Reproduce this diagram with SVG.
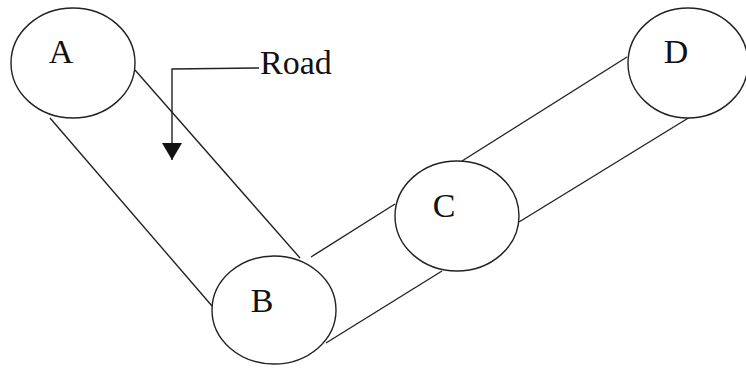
<svg xmlns="http://www.w3.org/2000/svg" width="746" height="368" viewBox="0 0 746 368">
<defs>
<style>
.node{fill:#fff;stroke:#222;stroke-width:1.4}
.lbl{font-family:"Liberation Serif","Times New Roman",serif;font-size:34px;fill:#111;text-anchor:middle}
.edge{stroke:#222;stroke-width:1.4;fill:none}
.road{font-family:"Liberation Serif","Times New Roman",serif;font-size:34px;fill:#111}
</style>
<marker id="ah" viewBox="0 -10 17 20" markerWidth="17" markerHeight="20" refX="17" refY="0" orient="auto" markerUnits="userSpaceOnUse">
<path d="M0,-10 L17,0 L0,10 z" fill="#111"/>
</marker>
</defs>
<rect width="746" height="368" fill="#fff"/>
<g id="connectors">
<line class="edge" x1="50" y1="118" x2="212" y2="306"/>
<line class="edge" x1="135" y1="70" x2="300" y2="258"/>
<line class="edge" x1="311" y1="257" x2="395" y2="204"/>
<line class="edge" x1="326" y1="343" x2="442" y2="271"/>
<line class="edge" x1="462" y1="161" x2="627" y2="57"/>
<line class="edge" x1="519" y1="222" x2="690" y2="117"/>
</g>
<g id="road-label">
<path class="edge" d="M259,68 L172,69 L172,160" marker-end="url(#ah)"/>
<text class="road" x="260" y="74">Road</text>
</g>
<g id="node-A">
<ellipse class="node" cx="73" cy="63" rx="62" ry="55"/>
<text class="lbl" x="61" y="63">A</text>
</g>
<g id="node-B">
<ellipse class="node" cx="274" cy="310" rx="62" ry="54"/>
<text class="lbl" x="262" y="312">B</text>
</g>
<g id="node-C">
<ellipse class="node" cx="457" cy="216" rx="62" ry="55"/>
<text class="lbl" x="444" y="217">C</text>
</g>
<g id="node-D">
<ellipse class="node" cx="688" cy="63" rx="60" ry="55"/>
<text class="lbl" x="676" y="63">D</text>
</g>
</svg>
